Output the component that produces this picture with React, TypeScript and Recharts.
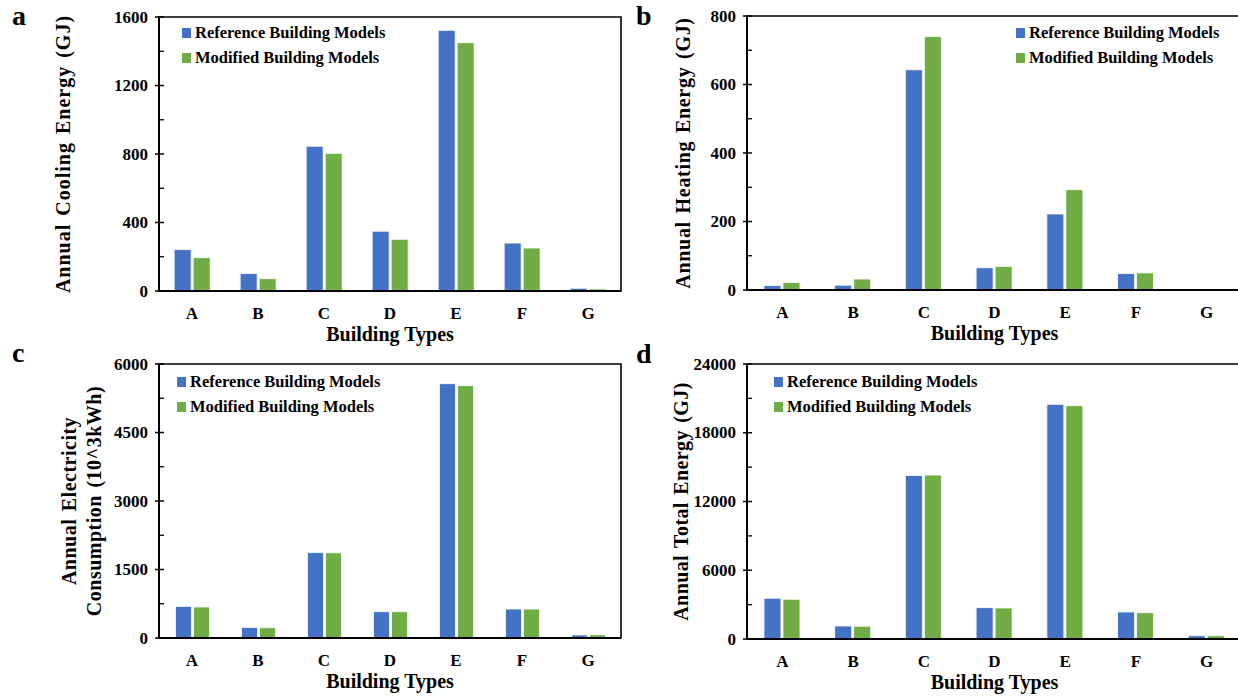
import React from "react";
import { Bar, BarChart, Label, Legend, ReferenceArea, XAxis, YAxis } from "recharts";

const buildingTypes = ["A", "B", "C", "D", "E", "F", "G"];
const seriesNames = ["Reference Building Models", "Modified Building Models"];
const seriesColors = ["#4472C4", "#70AD47"];

const coolingReference = [242, 102, 845, 349, 1522, 280, 16];
const coolingModified = [195, 72, 804, 302, 1450, 251, 12];
const heatingReference = [13, 14, 643, 65, 222, 48, 0];
const heatingModified = [22, 32, 740, 69, 293, 50, 0];
const electricityReference = [692, 232, 1870, 576, 5569, 635, 66];
const electricityModified = [679, 226, 1866, 576, 5526, 635, 70];
const totalReference = [3556, 1136, 14273, 2736, 20478, 2360, 288];
const totalModified = [3468, 1110, 14307, 2709, 20364, 2299, 288];

const coolingTicks = [0, 200, 400, 600, 800, 1000, 1200, 1400, 1600];
const coolingLabels = [0, 400, 800, 1200, 1600];
const heatingTicks = [0, 100, 200, 300, 400, 500, 600, 700, 800];
const heatingLabels = [0, 200, 400, 600, 800];
const electricityTicks = [0, 750, 1500, 2250, 3000, 3750, 4500, 5250, 6000];
const electricityLabels = [0, 1500, 3000, 4500, 6000];
const totalTicks = [0, 3000, 6000, 9000, 12000, 15000, 18000, 21000, 24000];
const totalLabels = [0, 6000, 12000, 18000, 24000];

const FONT = "'Liberation Serif', 'Times New Roman', serif";

function toRows(reference: number[], modified: number[]) {
  return buildingTypes.map((type, i) => ({ type, reference: reference[i], modified: modified[i] }));
}

const panels = [
  {
    id: "a",
    rows: toRows(coolingReference, coolingModified),
    ticks: coolingTicks,
    labels: coolingLabels,
    yTitle: ["Annual Cooling Energy (GJ)"],
    titleSpacing: { letter: 1.0, word: 2 },
    box: { left: 0, top: 0, width: 640, height: 355 },
    margin: { top: 17, right: 19, bottom: 4, left: 0 },
    yWidth: 159,
    titleX: 63,
    gap: "23%",
    legend: { left: 182, top: 20 },
  },
  {
    id: "b",
    rows: toRows(heatingReference, heatingModified),
    ticks: heatingTicks,
    labels: heatingLabels,
    yTitle: ["Annual Heating Energy (GJ)"],
    titleSpacing: { letter: 0.7, word: 2 },
    box: { left: 640, top: 0, width: 610, height: 355 },
    margin: { top: 16, right: 8, bottom: 5, left: 0 },
    yWidth: 107,
    titleX: 43,
    gap: "24%",
    legend: { left: 376, top: 20 },
  },
  {
    id: "c",
    rows: toRows(electricityReference, electricityModified),
    ticks: electricityTicks,
    labels: electricityLabels,
    yTitle: ["Annual Electricity", "Consumption (10^3kWh)"],
    titleSpacing: { letter: 0.5, word: 2 },
    box: { left: 0, top: 345, width: 640, height: 353 },
    margin: { top: 19, right: 19, bottom: 0, left: 0 },
    yWidth: 159,
    titleX: 81,
    gap: "25%",
    legend: { left: 177, top: 24 },
  },
  {
    id: "d",
    rows: toRows(totalReference, totalModified),
    ticks: totalTicks,
    labels: totalLabels,
    yTitle: ["Annual Total Energy (GJ)"],
    titleSpacing: { letter: 0.4, word: 2 },
    box: { left: 640, top: 345, width: 610, height: 354 },
    margin: { top: 19, right: 8, bottom: 0, left: 0 },
    yWidth: 107,
    titleX: 41,
    gap: "24%",
    legend: { left: 134, top: 24 },
  },
];

function YTick(props: any) {
  const { x, y, payload, labels } = props;
  const major = labels.includes(payload.value);
  if (!major) {
    return <line x1={x} x2={x + 5} y1={y} y2={y} stroke="#000" strokeWidth={1.3} />;
  }
  return (
    <g>
      <line x1={x - 4} x2={x + 5} y1={y} y2={y} stroke="#000" strokeWidth={1.5} />
      <text
        x={x - 11}
        y={y}
        textAnchor="end"
        dominantBaseline="central"
        fontFamily={FONT}
        fontWeight="bold"
        fontSize={17}
        fill="#000"
      >
        {payload.value}
      </text>
    </g>
  );
}

function YTitle({ viewBox, lines, cx, spacing }: any) {
  const cy = viewBox.y + viewBox.height / 2;
  const first = -((lines.length - 1) * 25) / 2;
  return (
    <text
      x={cx}
      y={cy}
      transform={`rotate(-90 ${cx} ${cy})`}
      textAnchor="middle"
      dominantBaseline="central"
      fontFamily={FONT}
      fontWeight="bold"
      fontSize={20}
      fill="#000"
      style={{ letterSpacing: spacing.letter, wordSpacing: spacing.word }}
    >
      {lines.map((line: string, i: number) => (
        <tspan key={line} x={cx} dy={i === 0 ? first : 25}>
          {line}
        </tspan>
      ))}
    </text>
  );
}

function LegendBox() {
  return (
    <div style={{ fontFamily: FONT, fontWeight: "bold", fontSize: 16.5, color: "#000" }}>
      {seriesNames.map((name, i) => (
        <div key={name} style={{ display: "flex", alignItems: "center", height: 25, whiteSpace: "nowrap" }}>
          <span style={{ width: 9, height: 10, background: seriesColors[i], marginRight: 4, display: "inline-block" }} />
          <span>{name}</span>
        </div>
      ))}
    </div>
  );
}

function Panel({ p }: { p: (typeof panels)[number] }) {
  const yMax = p.ticks[p.ticks.length - 1];
  return (
    <div style={{ position: "absolute", left: p.box.left, top: p.box.top }}>
      <BarChart
        width={p.box.width}
        height={p.box.height}
        data={p.rows}
        margin={p.margin}
        barCategoryGap={p.gap}
        barGap={2}
      >
        <XAxis
          dataKey="type"
          height={60}
          axisLine={{ stroke: "#000", strokeWidth: 2 }}
          tickLine={false}
          tickSize={0}
          tickMargin={16}
          tick={{ fontFamily: FONT, fontWeight: "bold", fontSize: 17, fill: "#000" }}
          interval={0}
        >
          <Label
            value="Building Types"
            position="insideBottom"
            offset={10}
            style={{ fontFamily: FONT, fontWeight: "bold", fontSize: 20, fill: "#000" }}
          />
        </XAxis>
        <YAxis
          width={p.yWidth}
          domain={[0, yMax]}
          ticks={p.ticks}
          interval={0}
          tickSize={0}
          tickMargin={0}
          axisLine={{ stroke: "#000", strokeWidth: 2 }}
          tickLine={false}
          tick={(props: any) => <YTick {...props} labels={p.labels} />}
        >
          <Label
            content={(props: any) => (
              <YTitle {...props} lines={p.yTitle} cx={p.titleX} spacing={p.titleSpacing} />
            )}
          />
        </YAxis>
        <ReferenceArea y1={0} y2={yMax} fill="none" stroke="#000" strokeWidth={1.6} ifOverflow="visible" />
        <Legend
          layout="horizontal"
          verticalAlign="middle"
          align="center"
          content={() => <LegendBox />}
          wrapperStyle={{ left: p.legend.left, top: p.legend.top, width: "auto" }}
        />
        <Bar
          dataKey="reference"
          name={seriesNames[0]}
          fill={seriesColors[0]}
          stroke="#fff"
          strokeWidth={0.8}
          isAnimationActive={false}
        />
        <Bar
          dataKey="modified"
          name={seriesNames[1]}
          fill={seriesColors[1]}
          stroke="#fff"
          strokeWidth={0.8}
          isAnimationActive={false}
        />
      </BarChart>
    </div>
  );
}

export default function App() {
  return (
    <div
      style={{
        position: "absolute",
        left: 0,
        top: 0,
        width: 1238,
        height: 698,
        overflow: "hidden",
        background: "#fff",
      }}
    >
      {panels.map((p) => (
        <Panel key={p.id} p={p} />
      ))}
      <svg width={1238} height={698} style={{ position: "absolute", left: 0, top: 0, pointerEvents: "none" }}>
        <g fontFamily={FONT} fontWeight="bold" fontSize={28} fill="#000">
          <text x={12} y={25}>a</text>
          <text x={636} y={25}>b</text>
          <text x={12} y={362}>c</text>
          <text x={636} y={363}>d</text>
        </g>
      </svg>
    </div>
  );
}
